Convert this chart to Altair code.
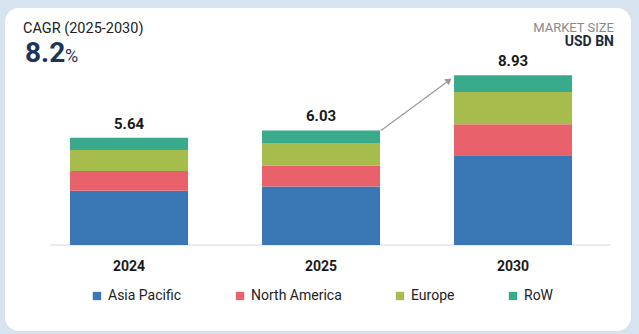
import altair as alt
import pandas as pd

years = ["2024", "2025", "2030"]
regions = ["Asia Pacific", "North America", "Europe", "RoW"]
asia_pacific = [2.85, 3.08, 4.72]
north_america = [1.05, 1.09, 1.63]
europe = [1.10, 1.20, 1.70]
row = [0.64, 0.66, 0.88]
totals = [5.64, 6.03, 8.93]
total_labels = ["5.64", "6.03", "8.93"]
colors = ["#3a77b5", "#e9616b", "#a6bd4d", "#3aaa8c"]

series = [asia_pacific, north_america, europe, row]
rows = []
for r_i, (reg, vals) in enumerate(zip(regions, series)):
    for y, v in zip(years, vals):
        rows.append({"year": y, "region": reg, "value": v, "order": r_i})
df = pd.DataFrame(rows)
tot_df = pd.DataFrame({"year": years, "total": totals, "label": total_labels})

FONT = "Roboto"
# plot area origin in the 639x334 canvas
OX, OY = 33, 55
PW, PH = 576, 190

xscale = alt.Scale(domain=years, paddingInner=0.3854, paddingOuter=0.1927)
yscale = alt.Scale(domain=[0, 10], nice=False, zero=True)

one = pd.DataFrame({"a": [0]})
arrow_df = pd.DataFrame({"y1": [totals[1]], "y2": [totals[2] - 0.27]})


def px(v):
    return alt.value(v - OX)


def py(v):
    return alt.value(v - OY)


card = alt.Chart(one).mark_rect(color="white", cornerRadius=14).encode(
    x=px(5), x2=px(631), y=py(8), y2=py(331)
)

baseline = alt.Chart(one).mark_rule(color="#d9d9d9", strokeWidth=1).encode(
    x=px(50), x2=px(610), y=py(245)
)

bars = alt.Chart(df).mark_bar().encode(
    x=alt.X("year:N", scale=xscale, axis=None),
    y=alt.Y("value:Q", stack="zero", scale=yscale, axis=None),
    color=alt.Color(
        "region:N",
        scale=alt.Scale(domain=regions, range=colors),
        legend=alt.Legend(
            orient="none", legendX=90 - OX, legendY=289 - OY, direction="horizontal",
            title=None, symbolType="square", symbolSize=70, symbolStrokeWidth=0,
            labelFontSize=14, labelFont=FONT, labelColor="#222222",
            columnPadding=51, labelOffset=4, padding=0,
        ),
    ),
    order=alt.Order("order:Q", sort="ascending"),
)

tot_text = alt.Chart(tot_df).mark_text(
    baseline="bottom", dy=-6, fontSize=15, fontWeight="bold", font=FONT, color="#1a1a1a"
).encode(
    x=alt.X("year:N", scale=xscale, axis=None),
    y=alt.Y("total:Q", scale=yscale, axis=None),
    text="label:N",
)

year_text = alt.Chart(tot_df).mark_text(
    baseline="middle", fontSize=14, fontWeight="bold", font=FONT, color="#1a1a1a"
).encode(
    x=alt.X("year:N", scale=xscale, axis=None),
    y=py(267),
    text="year:N",
)

arrow_line = alt.Chart(arrow_df).mark_rule(color="#9a9a9a", strokeWidth=1.2).encode(
    x=px(381), x2=px(449),
    y=alt.Y("y1:Q", scale=yscale, axis=None), y2="y2:Q",
)
arrow_head = alt.Chart(arrow_df).mark_point(
    shape="triangle-up", filled=True, color="#9a9a9a", size=55, angle=54, opacity=1
).encode(
    x=px(449), y=alt.Y("y2:Q", scale=yscale, axis=None)
)

title1 = alt.Chart(one).mark_text(
    align="left", baseline="middle", fontSize=14.5, font=FONT, color="#222222"
).encode(x=px(23), y=py(29), text=alt.value("CAGR (2025-2030)"))
title2 = alt.Chart(one).mark_text(
    align="left", baseline="alphabetic", fontSize=28, fontWeight="bold", font=FONT, color="#1d3557"
).encode(x=px(25), y=py(62), text=alt.value("8.2"))
title3 = alt.Chart(one).mark_text(
    align="left", baseline="alphabetic", fontSize=18, font=FONT, color="#1d3557"
).encode(x=px(65), y=py(62), text=alt.value("%"))
ms1 = alt.Chart(one).mark_text(
    align="right", baseline="middle", fontSize=13, font=FONT, color="#8a8a8a"
).encode(x=px(614), y=py(27.5), text=alt.value("MARKET SIZE"))
ms2 = alt.Chart(one).mark_text(
    align="right", baseline="middle", fontSize=14, fontWeight="bold", font=FONT, color="#1e2a3a"
).encode(x=px(614), y=py(42), text=alt.value("USD BN"))

chart = alt.layer(
    card, baseline, bars, tot_text, year_text, arrow_line, arrow_head,
    title1, title2, title3, ms1, ms2
).properties(
    width=PW, height=PH,
    padding={"left": OX, "top": OY, "right": 639 - OX - PW, "bottom": 334 - OY - PH},
    autosize=alt.AutoSizeParams(type="none"),
).configure(background="#d7e3ee").configure_view(stroke=None)

chart.save("out.html", embed_options={"renderer": "svg", "actions": False})
